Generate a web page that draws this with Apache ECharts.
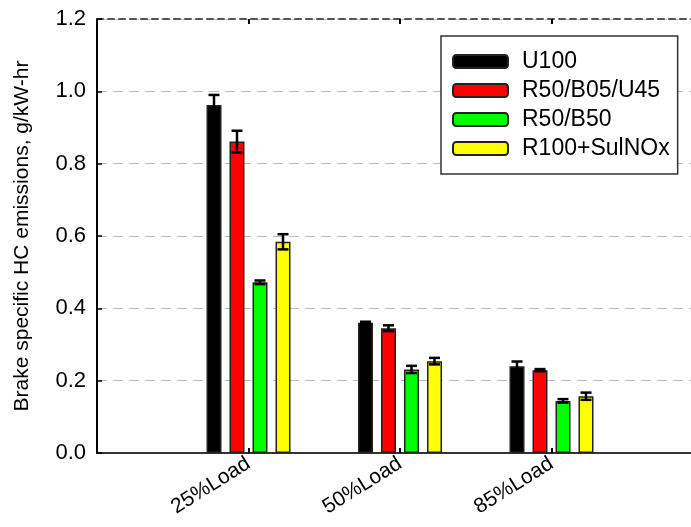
<!DOCTYPE html>
<html>
<head>
<meta charset="utf-8">
<script src="https://cdn.jsdelivr.net/npm/echarts@6/dist/echarts.min.js"></script>
<style>
html,body{margin:0;padding:0;background:#fff;}
#chart{width:691px;height:527px;}
</style>
</head>
<body>
<div id="chart"></div>
<script>
// ---- data ----
const categories = ['', '25%Load', '50%Load', '85%Load', ''];
const seriesNames = ['U100', 'R50/B05/U45', 'R50/B50', 'R100+SulNOx'];
const u100 = [0.962, 0.360, 0.240];
const r50b05u45 = [0.861, 0.345, 0.229];
const r50b50 = [0.472, 0.231, 0.144];
const r100sulnox = [0.584, 0.254, 0.157];
const u100Err = [0.028, 0.003, 0.013];
const r50b05u45Err = [0.030, 0.008, 0.003];
const r50b50Err = [0.005, 0.010, 0.005];
const r100sulnoxErr = [0.021, 0.009, 0.010];
const yTicks = [0, 0.2, 0.4, 0.6, 0.8, 1.0, 1.2];

const values = [u100, r50b05u45, r50b50, r100sulnox];
const errors = [u100Err, r50b05u45Err, r50b50Err, r100sulnoxErr];
const colors = ['#000000', '#ff0000', '#00ff00', '#ffff00'];

const FONT = "'Liberation Sans', Arial, sans-serif";
const barWidth = 15;
const gapPx = 8;

const chart = echarts.init(document.getElementById('chart'), null, {renderer: 'canvas'});

const series = [];
values.forEach((vals, i) => {
  series.push({
    name: seriesNames[i],
    type: 'bar',
    xAxisIndex: 0,
    barWidth: barWidth,
    barGap: (gapPx / barWidth * 100) + '%',
    data: ['-'].concat(vals).concat(['-']),
    itemStyle: {color: colors[i], borderColor: '#222', borderWidth: 1.5},
    z: 3
  });
});
values.forEach((vals, i) => {
  const offset = (i - 1.5) * (barWidth + gapPx);
  series.push({
    name: seriesNames[i] + ' err',
    type: 'custom',
    xAxisIndex: 0,
    z: 5,
    silent: true,
    encode: {x: 0, y: [1, 2]},
    data: vals.map((v, k) => [k + 1, v - errors[i][k], v + errors[i][k]]),
    renderItem: function (params, api) {
      const c = api.value(0);
      const x = api.coord([c, 0])[0] + offset;
      const lo = api.coord([c, api.value(1)])[1];
      const hi = api.coord([c, api.value(2)])[1];
      const hw = 5.5;
      const st = {stroke: '#000', lineWidth: 2.5, fill: null};
      return {
        type: 'group',
        children: [
          {type: 'line', shape: {x1: x, y1: lo, x2: x, y2: hi}, style: st},
          {type: 'line', shape: {x1: x - hw, y1: hi, x2: x + hw, y2: hi}, style: st},
          {type: 'line', shape: {x1: x - hw, y1: lo, x2: x + hw, y2: lo}, style: st}
        ]
      };
    }
  });
});

const option = {
  animation: false,
  backgroundColor: '#fff',
  textStyle: {fontFamily: FONT},
  grid: {left: 97, top: 19, right: -12, bottom: 74, containLabel: false, outerBoundsMode: 'none'},
  legend: {
    data: seriesNames,
    orient: 'vertical',
    left: 441,
    top: 36,
    padding: [14, 8, 14, 11],
    itemWidth: 55,
    itemHeight: 13,
    itemGap: 6,
    borderColor: '#333',
    borderWidth: 1.5,
    backgroundColor: '#fff',
    textStyle: {fontFamily: FONT, fontSize: 23, color: '#000', lineHeight: 23, padding: [0, 0, 0, 9]}
  },
  xAxis: [{
    type: 'category',
    data: categories,
    boundaryGap: false,
    position: 'bottom',
    axisLine: {show: true, lineStyle: {color: '#333', width: 2}},
    axisTick: {show: true, inside: true, length: 5, lineStyle: {color: '#000', width: 2}},
    axisLabel: {interval: 0, rotate: 32, margin: 9, fontFamily: FONT, fontSize: 21, color: '#000'},
    splitLine: {show: false}
  }, {
    type: 'category',
    data: categories,
    boundaryGap: false,
    position: 'top',
    axisLine: {show: true, lineStyle: {color: '#555', width: 2, type: [6, 5]}},
    axisTick: {show: true, inside: true, length: 5, lineStyle: {color: '#000', width: 2}},
    axisLabel: {show: false},
    splitLine: {show: false}
  }],
  yAxis: {
    type: 'value',
    min: yTicks[0],
    max: yTicks[yTicks.length - 1],
    interval: 0.2,
    name: 'Brake specific HC emissions, g/kW-hr',
    nameLocation: 'middle',
    nameGap: 64,
    nameTextStyle: {fontFamily: FONT, fontSize: 21, color: '#000'},
    axisLine: {show: true, lineStyle: {color: '#000', width: 2}},
    axisTick: {show: true, inside: true, length: 5, lineStyle: {color: '#000', width: 1.5}},
    axisLabel: {margin: 11, fontFamily: FONT, fontSize: 22, color: '#000', formatter: v => v.toFixed(1)},
    splitLine: {show: true, lineStyle: {color: '#bbb', width: 1, type: [10, 6]}}
  },
  series: series
};
chart.setOption(option);
</script>
</body>
</html>
